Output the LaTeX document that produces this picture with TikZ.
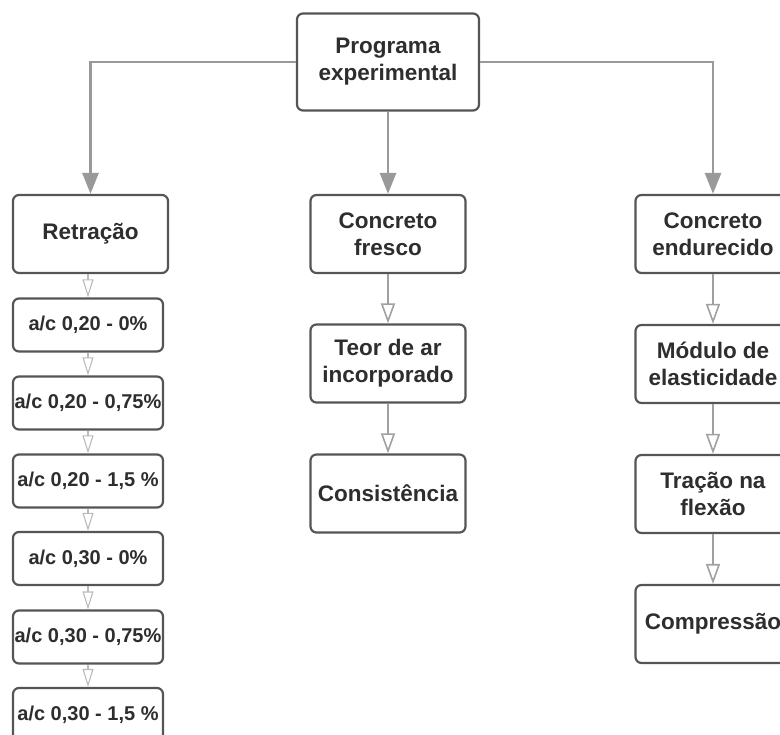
\documentclass[tikz,border=0pt]{standalone}
\usepackage{fontspec}
\setmainfont{Liberation Sans}
\usetikzlibrary{arrows.meta}
\definecolor{edge}{HTML}{555555}
\definecolor{feedc}{HTML}{999999}
\definecolor{chainc}{HTML}{A0A0A0}
\definecolor{schainc}{HTML}{BBBBBB}
\tikzset{
    blk/.style={draw=edge, line width=2.2pt, rounded corners=6pt, fill=white, align=center,
        minimum width=155pt, minimum height=78pt, inner sep=2pt,
        font=\fontsize{22.5}{27}\selectfont\bfseries, text=black!82},
    sblk/.style={draw=edge, line width=2.2pt, rounded corners=6pt, fill=white, align=center,
        minimum width=150pt, minimum height=53pt, inner sep=1pt,
        font=\fontsize{20}{24}\selectfont\bfseries, text=black!82},
    feed/.style={draw=feedc, line width=2.8pt, -{Triangle[length=21pt, width=16pt]}},
    chain/.style={draw=chainc, line width=1.6pt, -{Triangle[open, length=20pt, width=14pt, fill=white]}},
    schain/.style={draw=schainc, line width=1.1pt, -{Triangle[open, length=18pt, width=11pt, fill=white]}}
}
\begin{document}
\begin{tikzpicture}[x=1pt, y=-1pt]
    \useasboundingbox (0,0) rectangle (780,735);
    \clip (0,0) rectangle (780,735);
    % top
    \node[blk, minimum width=182pt, minimum height=97pt] (prog) at (388,62) {Programa\\experimental};
    % columns
    \node[blk] (ret) at (90.5,234) {Retração};
    \node[blk] (cf) at (388,234) {Concreto\\fresco};
    \node[blk] (ce) at (713,234) {Concreto\\endurecido};
    % left column
    \node[sblk] (a1) at (88,325) {a/c 0,20 - 0\%};
    \node[sblk] (a2) at (88,403) {a/c 0,20 - 0,75\%};
    \node[sblk] (a3) at (88,481) {a/c 0,20 - 1,5 \%};
    \node[sblk] (a4) at (88,558.5) {a/c 0,30 - 0\%};
    \node[sblk] (a5) at (88,637) {a/c 0,30 - 0,75\%};
    \node[sblk] (a6) at (88,714.5) {a/c 0,30 - 1,5 \%};
    % middle column
    \node[blk] (teor) at (388,363.5) {Teor de ar\\incorporado};
    \node[blk] (cons) at (388,493.5) {Consistência};
    % right column
    \node[blk] (mod) at (713,364) {Módulo de\\elasticidade};
    \node[blk] (trac) at (713,494) {Tração na\\flexão};
    \node[blk] (comp) at (713,624) {Compressão};

    \draw[feed] (prog.west) -| (ret.north);
    \draw[feed] (prog.south) -- (cf.north);
    \draw[feed] (prog.east) -| (ce.north);

    \draw[schain] (ret.south -| a1.north) -- (a1.north);
    \draw[schain] (a1) -- (a2);
    \draw[schain] (a2) -- (a3);
    \draw[schain] (a3) -- (a4);
    \draw[schain] (a4) -- (a5);
    \draw[schain] (a5) -- (a6);
    \draw[chain] (cf) -- (teor);
    \draw[chain] (teor) -- (cons);
    \draw[chain] (ce) -- (mod);
    \draw[chain] (mod) -- (trac);
    \draw[chain] (trac) -- (comp);
\end{tikzpicture}
\end{document}
